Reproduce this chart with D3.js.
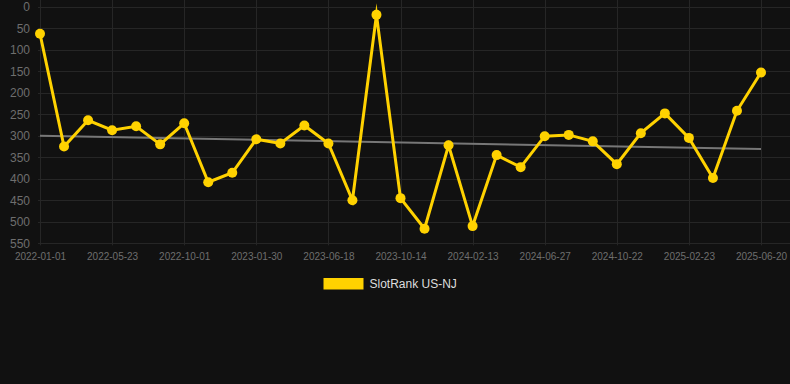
<!DOCTYPE html>
<html>
<head>
<meta charset="utf-8">
<script src="https://cdn.jsdelivr.net/npm/d3@7"></script>
<style>
  html, body { margin: 0; padding: 0; background: #111111; }
  svg { display: block; }
</style>
</head>
<body>
<svg id="chart" width="790" height="384"></svg>
<script>
// ---- data ----
const dates = [
  "2022-01-01","2022-02-17","2022-04-05","2022-05-23","2022-07-05","2022-08-17",
  "2022-10-01","2022-11-09","2022-12-20","2023-01-30","2023-03-19","2023-05-01",
  "2023-06-18","2023-08-05","2023-08-27","2023-10-14","2023-11-25","2024-01-02",
  "2024-02-13","2024-03-28","2024-05-12","2024-06-27","2024-08-05","2024-09-14",
  "2024-10-22","2024-12-01","2025-01-12","2025-02-23","2025-04-05","2025-05-13",
  "2025-06-20"
];
const ranks = [
  63, 325, 264, 287, 278, 320,
  271, 408, 386, 308, 318, 276,
  318, 450, 19, 445, 516, 322,
  510, 345, 373, 301, 298, 313,
  366, 294, 248, 305, 398, 242,
  153
];
const trendEnds = [300, 331];
const yTicks = [0, 50, 100, 150, 200, 250, 300, 350, 400, 450, 500, 550];
const seriesName = "SlotRank US-NJ";

(function () {
// ---- layout ----
const svg = d3.select("#chart");
const W = 790, H = 384;
const mLeft = 40, mRight = 761, mTop = 6.7, mBottom = 243.3;

svg.append("rect").attr("width", W).attr("height", H).attr("fill", "#111111");

const x = d3.scalePoint().domain(dates).range([mLeft, mRight]);
const y = d3.scaleLinear().domain([0, 550]).range([mTop, mBottom]);

// horizontal grid
const gridColor = "#262626";
svg.append("g").selectAll("line").data(yTicks).join("line")
  .attr("x1", mLeft - 2).attr("x2", W)
  .attr("y1", d => Math.round(y(d)) + 0.5).attr("y2", d => Math.round(y(d)) + 0.5)
  .attr("stroke", gridColor).attr("stroke-width", 1);

// vertical grid (every 3rd category)
const shown = dates.filter((d, i) => i % 3 === 0);
svg.append("g").selectAll("line").data(shown).join("line")
  .attr("x1", d => Math.round(x(d)) + 0.5).attr("x2", d => Math.round(x(d)) + 0.5)
  .attr("y1", 0).attr("y2", mBottom + 2)
  .attr("stroke", gridColor).attr("stroke-width", 1);

// y axis labels
const yAxis = d3.axisLeft(y).tickValues(yTicks).tickSize(0).tickPadding(0);
const gy = svg.append("g").attr("transform", `translate(${mLeft - 10},0)`).call(yAxis);
gy.select(".domain").remove();
gy.selectAll("text")
  .attr("fill", "#6e6e6e")
  .style("font-family", "'Liberation Sans', Arial, sans-serif")
  .style("font-size", "12px");

// x axis labels
const xAxis = d3.axisBottom(x).tickValues(shown).tickSize(0).tickPadding(0);
const gx = svg.append("g").attr("transform", `translate(0,${mBottom + 10})`).call(xAxis);
gx.select(".domain").remove();
gx.selectAll("text")
  .attr("fill", "#6e6e6e")
  .attr("dy", "0.71em")
  .style("font-family", "'Liberation Sans', Arial, sans-serif")
  .style("font-size", "10px");

// trend line
svg.append("line")
  .attr("x1", x(dates[0])).attr("x2", x(dates[dates.length - 1]))
  .attr("y1", y(trendEnds[0])).attr("y2", y(trendEnds[1]))
  .attr("stroke", "#777777").attr("stroke-width", 2);

// series line
const gold = "#FFD200";
const line = d3.line().x((d, i) => x(dates[i])).y(d => y(d));
svg.append("path")
  .datum(ranks)
  .attr("d", line)
  .attr("fill", "none")
  .attr("stroke", gold)
  .attr("stroke-width", 3)
  .attr("stroke-linejoin", "miter")
  .attr("stroke-miterlimit", 10);

// points
svg.append("g").selectAll("circle").data(ranks).join("circle")
  .attr("cx", (d, i) => x(dates[i]))
  .attr("cy", d => y(d))
  .attr("r", 5)
  .attr("fill", gold);

// legend
const lg = svg.append("g");
lg.append("rect").attr("x", 323.5).attr("y", 278).attr("width", 40).attr("height", 11.5)
  .attr("fill", gold);
lg.append("text").attr("x", 369.5).attr("y", 284).attr("dy", "0.35em")
  .attr("fill", "#dddddd")
  .style("font-family", "'Liberation Sans', Arial, sans-serif")
  .style("font-size", "12px")
  .text(seriesName);
})();
</script>
</body>
</html>
